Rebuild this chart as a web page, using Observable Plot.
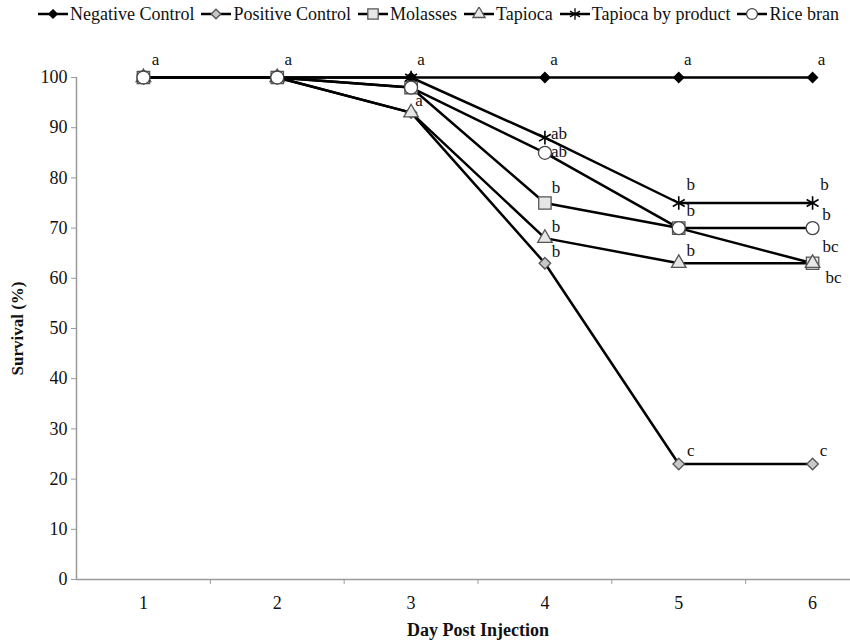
<!DOCTYPE html>
<html><head><meta charset="utf-8">
<script src="https://cdn.jsdelivr.net/npm/d3@7"></script>
<script src="https://cdn.jsdelivr.net/npm/@observablehq/plot@0.6"></script>
<style>
body{margin:0;background:#fff;}
#legend{height:28px;display:flex;align-items:center;font-family:"Liberation Serif","Times New Roman",serif;font-size:18px;padding-left:38px;white-space:nowrap;color:#111;}
.item{display:flex;align-items:center;margin-right:7px;}
.item svg{margin-right:2px;}
</style></head><body><div id="legend"></div><div id="chart"></div>
<script>
const days = [1, 2, 3, 4, 5, 6];
const seriesNames = ["Negative Control", "Positive Control", "Molasses", "Tapioca", "Tapioca by product", "Rice bran"];
const negativeControl = [100, 100, 100, 100, 100, 100];
const positiveControl = [100, 100, 93, 63, 23, 23];
const molasses = [100, 100, 98, 75, 70, 63];
const tapioca = [100, 100, 93, 68, 63, 63];
const tapiocaByProduct = [100, 100, 100, 88, 75, 75];
const riceBran = [100, 100, 98, 85, 70, 70];
const yTicks = [0, 10, 20, 30, 40, 50, 60, 70, 80, 90, 100];

// significance letters
const sigDay   = [1, 2, 3, 3, 4, 4, 4, 4, 4, 4, 5, 5, 5, 5, 5, 6, 6, 6, 6, 6, 6];
const sigValue = [100, 100, 100, 93, 100, 88, 85, 75, 68, 63, 100, 75, 70, 63, 23, 100, 75, 75, 63, 63, 23];
const sigText  = ["a", "a", "a", "a", "a", "ab", "ab", "b", "b", "b", "a", "b", "b", "b", "c", "a", "b", "b", "bc", "bc", "c"];
const sigDx = [12, 11, 10, 8, 9, 14, 14, 11, 11, 11, 9, 12, 12, 12, 12, 9, 12, 14, 18, 21, 11];
const sigDy = [-18, -18, -18, -12, -18, -4, -1, -15, -12, -12, -18, -18, -18, -13, -13, -18, -18, 12, -17, 14, -13];

const seriesValues = [negativeControl, positiveControl, molasses, tapioca, tapiocaByProduct, riceBran];
const styles = [
  {symbol: "diamond2", r: 4.5, fill: "#000", stroke: "#000"},
  {symbol: "diamond2", r: 5.2, fill: "#c8c8c8", stroke: "#555"},
  {symbol: "square", r: 7, fill: "#e6e6e6", stroke: "#555"},
  {symbol: "triangle", r: 5.4, fill: "#e6e6e6", stroke: "#555"},
  {symbol: "asterisk", r: 6.5, fill: "none", stroke: "#000"},
  {symbol: "circle", r: 6.5, fill: "#fff", stroke: "#444"}
];
const FONT = "'Liberation Serif', 'Times New Roman', serif";

const rows = [];
seriesNames.forEach((s, i) => days.forEach((d, j) => rows.push({series: s, day: d, value: seriesValues[i][j]})));
const sig = sigDay.map((d, i) => ({day: d, value: sigValue[i], text: sigText[i], dx: sigDx[i], dy: sigDy[i]}));

// legend
const legend = document.getElementById("legend");
const d3sym = {diamond2: d3.symbolDiamond2, square: d3.symbolSquare, triangle: d3.symbolTriangle, asterisk: d3.symbolAsterisk, circle: d3.symbolCircle};
seriesNames.forEach((s, i) => {
  const st = styles[i];
  const item = document.createElement("div");
  item.className = "item";
  const svg = d3.create("svg").attr("width", 30).attr("height", 14);
  svg.append("line").attr("x1", 0).attr("x2", 30).attr("y1", 7).attr("y2", 7).attr("stroke", "#000").attr("stroke-width", 2.5);
  svg.append("path").attr("transform", "translate(15,7)")
    .attr("d", d3.symbol(d3sym[st.symbol], st.r * st.r * Math.PI * 0.7)())
    .attr("fill", st.fill).attr("stroke", st.stroke).attr("stroke-width", 1.3);
  item.appendChild(svg.node());
  item.appendChild(document.createTextNode(s));
  legend.appendChild(item);
});

const marks = [
  Plot.ruleX([0.5], {stroke: "#9a9a9a", strokeWidth: 1.5}),
  Plot.ruleY([0], {stroke: "#9a9a9a", strokeWidth: 1.5}),
  Plot.axisY({ticks: yTicks, tickSize: 5, tickPadding: 4, stroke: "#9a9a9a", label: null, fill: "#111"}),
  Plot.axisX({ticks: [1.5, 2.5, 3.5, 4.5, 5.5], tickSize: 5, tickFormat: () => "", stroke: "#9a9a9a", label: null}),
  Plot.axisX({ticks: days, tickSize: 0, tickPadding: 17, tickFormat: d3.format("d"), label: "Day Post Injection", labelAnchor: "center", labelArrow: "none", labelOffset: 56, fill: "#111"}),
  Plot.text(["Survival (%)"], {frameAnchor: "left", textAnchor: "middle", y: 50, dx: -59, rotate: -90, fontWeight: "bold", fontSize: 17, fill: "#111"}),
  Plot.line(rows, {x: "day", y: "value", z: "series", stroke: "#000", strokeWidth: 2.5})
];
seriesNames.forEach((s, i) => {
  const st = styles[i];
  marks.push(Plot.dot(rows.filter(r => r.series === s), {x: "day", y: "value", symbol: () => st.symbol, r: st.r, fill: st.fill, stroke: st.stroke, strokeWidth: st.symbol === "asterisk" ? 1.6 : 1.3}));
});
sig.forEach(s => marks.push(Plot.text([s], {x: "day", y: "value", text: "text", dx: s.dx, dy: s.dy, fontSize: 17, fill: "#111"})));

const chart = Plot.plot({
  width: 850, height: 616,
  marginLeft: 76, marginTop: 49, marginBottom: 65, marginRight: -29,
  x: {domain: [0.5, 6.5]},
  y: {domain: [0, 100]},
  style: {fontFamily: FONT, fontSize: "18px", background: "#fff"},
  marks
});
chart.querySelectorAll("g[aria-label='x-axis label']").forEach(e => e.setAttribute("font-weight", "bold"));
document.getElementById("chart").appendChild(chart);
</script></body></html>
